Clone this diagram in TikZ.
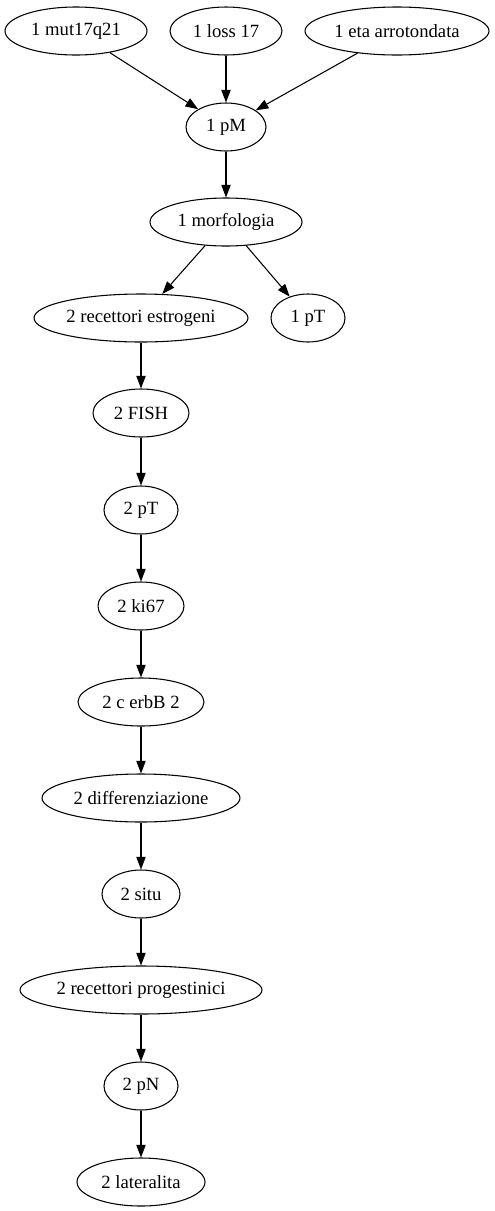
\documentclass[tikz,border=0pt]{standalone}
\usepackage{fontspec}
\setmainfont{Liberation Serif}
\usetikzlibrary{shapes.geometric,arrows.meta}
\begin{document}
\begin{tikzpicture}[x=0.75pt,y=-0.75pt,
  ell/.style={ellipse, draw, line width=0.8pt, inner sep=0pt,
    minimum height=36pt, minimum width=#1, font=\fontsize{14}{16}\selectfont},
  edge/.style={draw, line width=0.8pt,
    -{Triangle[length=9.5pt,width=7pt]}}]
\useasboundingbox (0,0) rectangle (495,1211);
% top row of sources
\node[ell=106.5pt] (mut)  at (76,31)  {1 mut17q21};
\node[ell=84pt]    (loss) at (226,31) {1 loss 17};
\node[ell=138pt]   (eta)  at (397,31) {1 eta arrotondata};
% first-stage nodes
\node[ell=60pt]    (pM)   at (226,127) {1 pM};
\node[ell=114pt]   (morf) at (226,222) {1 morfologia};
\node[ell=160.5pt] (rec)  at (141,318) {2 recettori estrogeni};
\node[ell=55.5pt]  (pT1)  at (308,318) {1 pT};
% second-stage chain
\node[ell=72pt]    (fish) at (141,413)  {2 FISH};
\node[ell=55.5pt]  (pT2)  at (141,510)  {2 pT};
\node[ell=64.5pt]  (ki)   at (141,606)  {2 ki67};
\node[ell=94.5pt]  (cerb) at (141,702)  {2 c erbB 2};
\node[ell=148.5pt] (diff) at (141,798)  {2 differenziazione};
\node[ell=58.5pt]  (situ) at (141,894)  {2 situ};
\node[ell=181.5pt] (prog) at (141,990)  {2 recettori progestinici};
\node[ell=55.5pt]  (pN)   at (141,1086) {2 pN};
\node[ell=96pt]    (lat)  at (141,1182) {2 lateralita};
% connectors
\path[edge] (mut) -- (pM);
\path[edge] (loss) -- (pM);
\path[edge] (eta) -- (pM);
\path[edge] (pM) -- (morf);
\path[edge] (morf) -- (rec);
\path[edge] (morf) -- (pT1);
\path[edge] (rec) -- (fish);
\path[edge] (fish) -- (pT2);
\path[edge] (pT2) -- (ki);
\path[edge] (ki) -- (cerb);
\path[edge] (cerb) -- (diff);
\path[edge] (diff) -- (situ);
\path[edge] (situ) -- (prog);
\path[edge] (prog) -- (pN);
\path[edge] (pN) -- (lat);
\end{tikzpicture}
\end{document}
